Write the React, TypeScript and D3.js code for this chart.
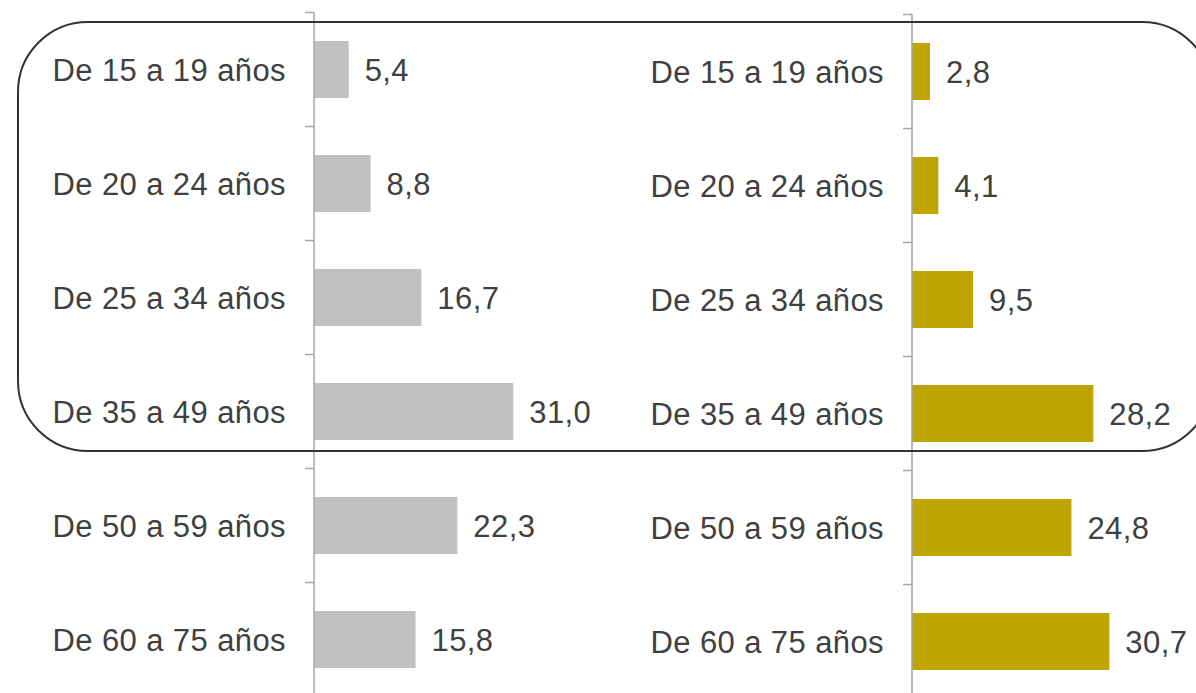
import React from 'react';
import * as d3 from 'd3';

const ageGroups = [
  'De 15 a 19 años',
  'De 20 a 24 años',
  'De 25 a 34 años',
  'De 35 a 49 años',
  'De 50 a 59 años',
  'De 60 a 75 años',
];
const leftValues = [5.4, 8.8, 16.7, 31.0, 22.3, 15.8];
const rightValues = [2.8, 4.1, 9.5, 28.2, 24.8, 30.7];

const width = 1196;
const height = 693;
const textColor = '#404040';
const axisColor = '#a6a6a6';
const fontFamily = '"Liberation Sans", Arial, sans-serif';

const fmt = (v: number) => v.toFixed(1).replace('.', ',');

const Panel = ({ values, axisX, top, color }: { values: number[]; axisX: number; top: number; color: string }) => {
  const y = d3.scaleBand<string>()
    .domain(ageGroups)
    .range([top, top + 6 * 114])
    .paddingInner(0.5)
    .paddingOuter(0.25);

  const x = d3.scaleLinear().domain([0, 35]).range([0, 225]);

  const step = y.step();
  const boundaries = d3.range(ageGroups.length + 1).map(i => top + i * step);

  return (
    <g>
      {ageGroups.map((g, i) => {
        const yPos = y(g)!;
        const cy = yPos + y.bandwidth() / 2;
        return (
          <g key={g}>
            <rect x={axisX} y={yPos} width={x(values[i])} height={y.bandwidth()} fill={color} />
            <text x={axisX - 28} y={cy + 11} textAnchor="end" fontSize={31} letterSpacing={0.4}
              fill={textColor} fontFamily={fontFamily}>{g}</text>
            <text x={axisX + x(values[i]) + 16} y={cy + 11} fontSize={31} letterSpacing={0.4}
              fill={textColor} fontFamily={fontFamily}>{fmt(values[i])}</text>
          </g>
        );
      })}
      <line x1={axisX} x2={axisX} y1={top} y2={height + 5} stroke={axisColor} strokeWidth={1.5} />
      {boundaries.map((b, i) => (
        <line key={i} x1={axisX - 9} x2={axisX} y1={b} y2={b} stroke={axisColor} strokeWidth={1.5} />
      ))}
    </g>
  );
};

export default function App() {
  return (
    <svg width={width} height={height} style={{ position: 'absolute', left: 0, top: 0, background: '#fff' }}>
      <Panel values={leftValues} axisX={314} top={12.5} color="#c0c0c0" />
      <Panel values={rightValues} axisX={912} top={14.5} color="#bfa500" />
      <rect x={18} y={22} width={1194} height={429} rx={70} ry={70} fill="none" stroke="#333333" strokeWidth={2} />
    </svg>
  );
}
